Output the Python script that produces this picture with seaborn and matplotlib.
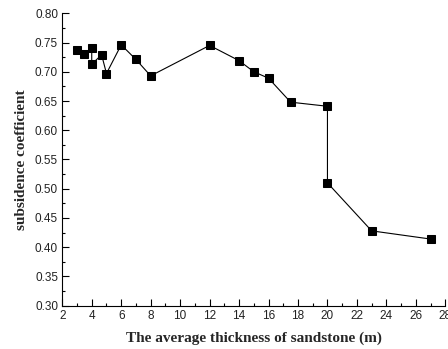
import numpy as np
import pandas as pd
import matplotlib
matplotlib.use('Agg')
import matplotlib.pyplot as plt
import seaborn as sns
from matplotlib.ticker import MultipleLocator, FormatStrFormatter

# data
thickness = [3, 3.5, 4, 4, 4.67, 5, 6, 7, 8, 12, 14, 15, 16, 17.5, 20, 20, 23, 27]
coefficient = [0.737, 0.730, 0.741, 0.713, 0.729, 0.697, 0.746, 0.721, 0.693,
               0.745, 0.719, 0.700, 0.689, 0.648, 0.641, 0.510, 0.428, 0.414]

df = pd.DataFrame({'thickness': thickness, 'coefficient': coefficient})

sns.set_style('ticks')
plt.rcParams['font.family'] = 'sans-serif'
plt.rcParams['font.sans-serif'] = ['Liberation Sans', 'DejaVu Sans']

fig = plt.figure(figsize=(4.48, 3.49), dpi=100)
ax = fig.add_axes([0.139, 0.124, 0.855, 0.838])

sns.lineplot(data=df, x='thickness', y='coefficient', sort=False, estimator=None,
             marker='s', markersize=5.4, markeredgecolor='black', color='black',
             linewidth=0.8, ax=ax)

ax.set_xlim(2, 28)
ax.set_ylim(0.30, 0.80)
ax.xaxis.set_major_locator(MultipleLocator(2))
ax.xaxis.set_minor_locator(MultipleLocator(1))
ax.yaxis.set_major_locator(MultipleLocator(0.05))
ax.yaxis.set_minor_locator(MultipleLocator(0.025))
ax.yaxis.set_major_formatter(FormatStrFormatter('%.2f'))

ax.tick_params(which='major', direction='in', length=5, width=0.8, labelsize=8.5,
               pad=3, color='black', labelcolor='#222222')
ax.tick_params(which='minor', direction='in', length=2.5, width=0.8, color='black')

for s in ['top', 'right']:
    ax.spines[s].set_visible(False)
for s in ['left', 'bottom']:
    ax.spines[s].set_linewidth(0.8)
    ax.spines[s].set_color('black')

ax.set_xlabel('The average thickness of sandstone (m)', fontfamily='Liberation Serif',
              fontweight='bold', fontsize=11, labelpad=7)
ax.set_ylabel('subsidence coefficient', fontfamily='Liberation Serif',
              fontweight='bold', fontsize=11, labelpad=5)

fig.savefig('out.png', dpi=100)
